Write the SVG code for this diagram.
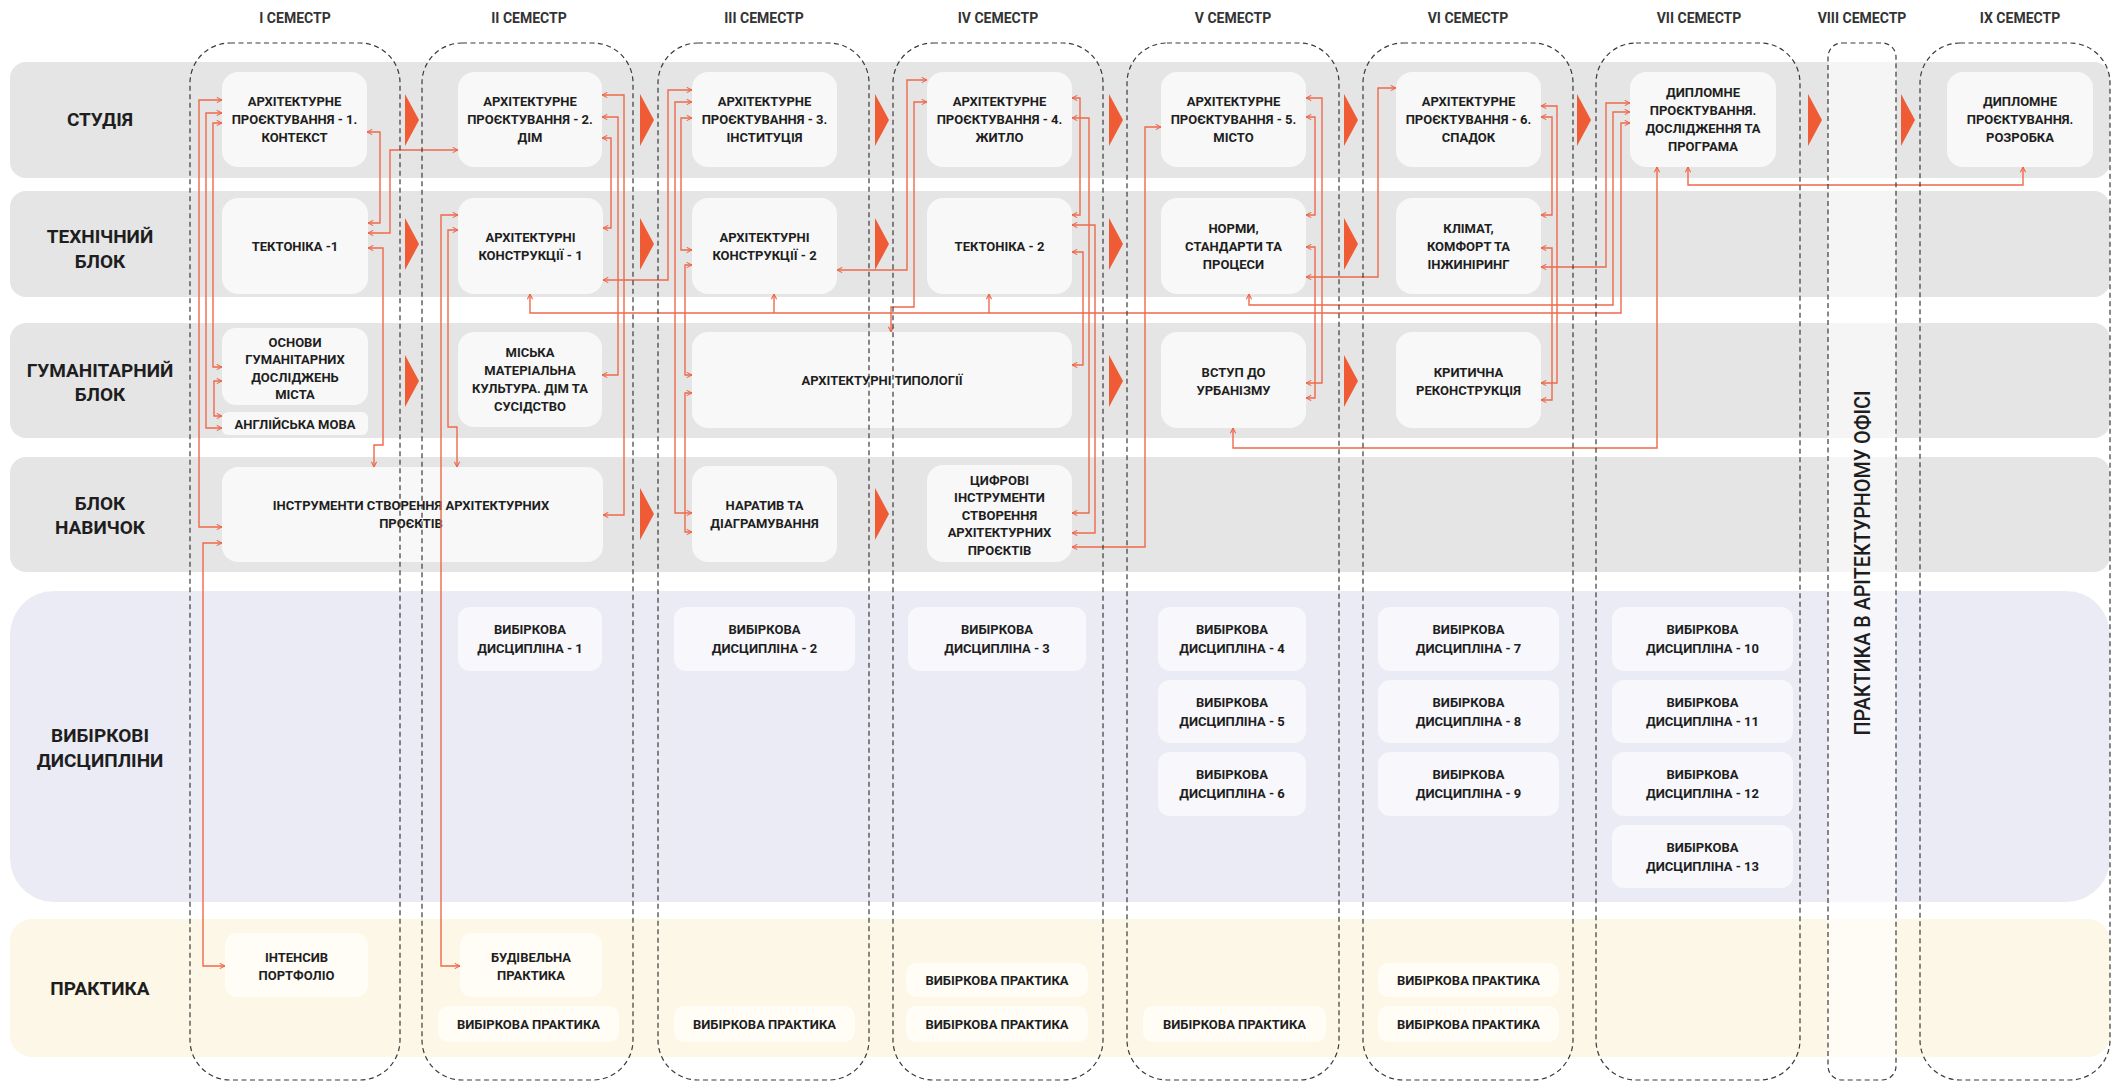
<svg xmlns="http://www.w3.org/2000/svg" width="2112" height="1082" viewBox="0 0 2112 1082">
<defs>
<marker id="ah" viewBox="0 0 8 8" refX="7.5" refY="4" markerWidth="7" markerHeight="7" markerUnits="userSpaceOnUse" orient="auto-start-reverse"><path d="M1.5,1 L7.5,4 L1.5,7" fill="none" stroke="#ec6446" stroke-width="1.2"/></marker>
</defs>
<style>
.band{fill:#e5e5e5}
.node{fill:#f8f8f8}
.enode{fill:#f7f7fc}
.pnode{fill:#fffdf6}
.t{font-family:Roboto,"Liberation Sans",sans-serif;font-weight:700;font-size:13px;fill:#1e1e1e;text-anchor:middle}
.lbl{font-size:19px}
.hdr{font-size:14px;fill:#333}
.col{fill:none;stroke:#3a3a3a;stroke-width:1.2;stroke-dasharray:5 3.5}
.tri{fill:#ef5b35}
.c{fill:none;stroke:#ee6a4b;stroke-width:1.4;marker-start:url(#ah);marker-end:url(#ah)}
.c1{fill:none;stroke:#ee6a4b;stroke-width:1.4;marker-end:url(#ah)}
</style>
<rect width="2112" height="1082" fill="#ffffff"/>
<g id="bands">
<rect class="band" x="10" y="62" width="2100" height="116" rx="16"/>
<rect class="band" x="10" y="191" width="2100" height="106" rx="16"/>
<rect class="band" x="10" y="323" width="2100" height="115" rx="16"/>
<rect class="band" x="10" y="457" width="2100" height="115" rx="16"/>
<rect x="10" y="591" width="2100" height="311" rx="44" fill="#ebebf5"/>
<rect x="10" y="919" width="2100" height="138" rx="22" fill="#fcf7e6"/>
<rect x="1828" y="43" width="68" height="1037" rx="14" fill="#ffffff" fill-opacity="0.6"/>
</g>
<g id="row-labels" class="t lbl">
<text x="100" y="126">СТУДІЯ</text>
<text x="100" y="243">ТЕХНІЧНИЙ</text><text x="100" y="268">БЛОК</text>
<text x="100" y="377">ГУМАНІТАРНИЙ</text><text x="100" y="401">БЛОК</text>
<text x="100" y="510">БЛОК</text><text x="100" y="534">НАВИЧОК</text>
<text x="100" y="742">ВИБІРКОВІ</text><text x="100" y="767">ДИСЦИПЛІНИ</text>
<text x="100" y="995">ПРАКТИКА</text>
</g>
<g id="headers" class="t hdr">
<text x="295" y="23">I СЕМЕСТР</text>
<text x="529" y="23">II СЕМЕСТР</text>
<text x="764" y="23">III СЕМЕСТР</text>
<text x="998" y="23">IV СЕМЕСТР</text>
<text x="1233" y="23">V СЕМЕСТР</text>
<text x="1468" y="23">VI СЕМЕСТР</text>
<text x="1699" y="23">VII СЕМЕСТР</text>
<text x="1862" y="23">VIII СЕМЕСТР</text>
<text x="2020" y="23">IX СЕМЕСТР</text>
</g>
<g id="s1"><rect class="node" x="222" y="72" width="145" height="95" rx="16"/><text class="t" x="294.5" y="106">АРХІТЕКТУРНЕ</text><text class="t" x="294.5" y="124">ПРОЄКТУВАННЯ - 1.</text><text class="t" x="294.5" y="142">КОНТЕКСТ</text></g>
<g id="s2"><rect class="node" x="458" y="72" width="144" height="95" rx="16"/><text class="t" x="530" y="106">АРХІТЕКТУРНЕ</text><text class="t" x="530" y="124">ПРОЄКТУВАННЯ - 2.</text><text class="t" x="530" y="142">ДІМ</text></g>
<g id="s3"><rect class="node" x="692" y="72" width="145" height="95" rx="16"/><text class="t" x="764.5" y="106">АРХІТЕКТУРНЕ</text><text class="t" x="764.5" y="124">ПРОЄКТУВАННЯ - 3.</text><text class="t" x="764.5" y="142">ІНСТИТУЦІЯ</text></g>
<g id="s4"><rect class="node" x="927" y="72" width="145" height="95" rx="16"/><text class="t" x="999.5" y="106">АРХІТЕКТУРНЕ</text><text class="t" x="999.5" y="124">ПРОЄКТУВАННЯ - 4.</text><text class="t" x="999.5" y="142">ЖИТЛО</text></g>
<g id="s5"><rect class="node" x="1161" y="72" width="145" height="95" rx="16"/><text class="t" x="1233.5" y="106">АРХІТЕКТУРНЕ</text><text class="t" x="1233.5" y="124">ПРОЄКТУВАННЯ - 5.</text><text class="t" x="1233.5" y="142">МІСТО</text></g>
<g id="s6"><rect class="node" x="1396" y="72" width="145" height="95" rx="16"/><text class="t" x="1468.5" y="106">АРХІТЕКТУРНЕ</text><text class="t" x="1468.5" y="124">ПРОЄКТУВАННЯ - 6.</text><text class="t" x="1468.5" y="142">СПАДОК</text></g>
<g id="s7"><rect class="node" x="1630" y="72" width="146" height="95" rx="16"/><text class="t" x="1703" y="97">ДИПЛОМНЕ</text><text class="t" x="1703" y="115">ПРОЄКТУВАННЯ.</text><text class="t" x="1703" y="133">ДОСЛІДЖЕННЯ ТА</text><text class="t" x="1703" y="151">ПРОГРАМА</text></g>
<g id="s9"><rect class="node" x="1947" y="72" width="146" height="95" rx="16"/><text class="t" x="2020" y="106">ДИПЛОМНЕ</text><text class="t" x="2020" y="124">ПРОЄКТУВАННЯ.</text><text class="t" x="2020" y="142">РОЗРОБКА</text></g>
<g id="t1"><rect class="node" x="222" y="198" width="146" height="96" rx="16"/><text class="t" x="295" y="251">ТЕКТОНІКА -1</text></g>
<g id="t2"><rect class="node" x="458" y="198" width="145" height="96" rx="16"/><text class="t" x="530.5" y="241.5">АРХІТЕКТУРНІ</text><text class="t" x="530.5" y="259.5">КОНСТРУКЦІЇ - 1</text></g>
<g id="t3"><rect class="node" x="692" y="198" width="145" height="96" rx="16"/><text class="t" x="764.5" y="241.5">АРХІТЕКТУРНІ</text><text class="t" x="764.5" y="259.5">КОНСТРУКЦІЇ - 2</text></g>
<g id="t4"><rect class="node" x="927" y="198" width="145" height="96" rx="16"/><text class="t" x="999.5" y="251">ТЕКТОНІКА - 2</text></g>
<g id="t5"><rect class="node" x="1161" y="198" width="145" height="96" rx="16"/><text class="t" x="1233.5" y="232.5">НОРМИ,</text><text class="t" x="1233.5" y="250.5">СТАНДАРТИ ТА</text><text class="t" x="1233.5" y="268.5">ПРОЦЕСИ</text></g>
<g id="t6"><rect class="node" x="1396" y="198" width="145" height="96" rx="16"/><text class="t" x="1468.5" y="232.5">КЛІМАТ,</text><text class="t" x="1468.5" y="250.5">КОМФОРТ ТА</text><text class="t" x="1468.5" y="268.5">ІНЖИНІРИНГ</text></g>
<g id="h1"><rect class="node" x="222" y="328" width="146" height="77" rx="14"/><text class="t" x="295" y="346.5">ОСНОВИ</text><text class="t" x="295" y="364">ГУМАНІТАРНИХ</text><text class="t" x="295" y="381.5">ДОСЛІДЖЕНЬ</text><text class="t" x="295" y="399">МІСТА</text></g>
<g id="h1b"><rect class="node" x="222" y="412" width="146" height="23" rx="6"/><text class="t" x="295" y="428.5">АНГЛІЙСЬКА МОВА</text></g>
<g id="h2"><rect class="node" x="458" y="332" width="144" height="95" rx="16"/><text class="t" x="530" y="356.5">МІСЬКА</text><text class="t" x="530" y="374.5">МАТЕРІАЛЬНА</text><text class="t" x="530" y="392.5">КУЛЬТУРА. ДІМ ТА</text><text class="t" x="530" y="410.5">СУСІДСТВО</text></g>
<g id="h34"><rect class="node" x="692" y="332" width="380" height="96" rx="16"/><text class="t" x="882" y="384.5">АРХІТЕКТУРНІ ТИПОЛОГІЇ</text></g>
<g id="h5"><rect class="node" x="1161" y="332" width="145" height="96" rx="16"/><text class="t" x="1233.5" y="376.5">ВСТУП ДО</text><text class="t" x="1233.5" y="394.5">УРБАНІЗМУ</text></g>
<g id="h6"><rect class="node" x="1396" y="332" width="145" height="96" rx="16"/><text class="t" x="1468.5" y="376.5">КРИТИЧНА</text><text class="t" x="1468.5" y="394.5">РЕКОНСТРУКЦІЯ</text></g>
<g id="k12"><rect class="node" x="222" y="467" width="381" height="95" rx="16"/><text class="t" x="411" y="509.5">ІНСТРУМЕНТИ СТВОРЕННЯ АРХІТЕКТУРНИХ</text><text class="t" x="411" y="527.5">ПРОЄКТІВ</text></g>
<g id="k3"><rect class="node" x="692" y="466" width="145" height="96" rx="16"/><text class="t" x="764.5" y="509.5">НАРАТИВ ТА</text><text class="t" x="764.5" y="527.5">ДІАГРАМУВАННЯ</text></g>
<g id="k4"><rect class="node" x="927" y="465" width="145" height="97" rx="16"/><text class="t" x="999.5" y="484.6">ЦИФРОВІ</text><text class="t" x="999.5" y="502.1">ІНСТРУМЕНТИ</text><text class="t" x="999.5" y="519.6">СТВОРЕННЯ</text><text class="t" x="999.5" y="537.1">АРХІТЕКТУРНИХ</text><text class="t" x="999.5" y="554.6">ПРОЄКТІВ</text></g>
<g id="e1"><rect class="enode" x="458" y="607" width="144" height="64" rx="12"/><text class="t" x="530" y="634">ВИБІРКОВА</text><text class="t" x="530" y="653">ДИСЦИПЛІНА - 1</text></g>
<g id="e2"><rect class="enode" x="674" y="607" width="181" height="64" rx="12"/><text class="t" x="764.5" y="634">ВИБІРКОВА</text><text class="t" x="764.5" y="653">ДИСЦИПЛІНА - 2</text></g>
<g id="e3"><rect class="enode" x="908" y="607" width="178" height="64" rx="12"/><text class="t" x="997" y="634">ВИБІРКОВА</text><text class="t" x="997" y="653">ДИСЦИПЛІНА - 3</text></g>
<g id="e4"><rect class="enode" x="1158" y="607" width="148" height="64" rx="12"/><text class="t" x="1232" y="634">ВИБІРКОВА</text><text class="t" x="1232" y="653">ДИСЦИПЛІНА - 4</text></g>
<g id="e5"><rect class="enode" x="1158" y="680" width="148" height="63" rx="12"/><text class="t" x="1232" y="706.6">ВИБІРКОВА</text><text class="t" x="1232" y="725.6">ДИСЦИПЛІНА - 5</text></g>
<g id="e6"><rect class="enode" x="1158" y="752" width="148" height="64" rx="12"/><text class="t" x="1232" y="779">ВИБІРКОВА</text><text class="t" x="1232" y="798">ДИСЦИПЛІНА - 6</text></g>
<g id="e7"><rect class="enode" x="1378" y="607" width="181" height="64" rx="12"/><text class="t" x="1468.5" y="634">ВИБІРКОВА</text><text class="t" x="1468.5" y="653">ДИСЦИПЛІНА - 7</text></g>
<g id="e8"><rect class="enode" x="1378" y="680" width="181" height="63" rx="12"/><text class="t" x="1468.5" y="706.6">ВИБІРКОВА</text><text class="t" x="1468.5" y="725.6">ДИСЦИПЛІНА - 8</text></g>
<g id="e9"><rect class="enode" x="1378" y="752" width="181" height="64" rx="12"/><text class="t" x="1468.5" y="779">ВИБІРКОВА</text><text class="t" x="1468.5" y="798">ДИСЦИПЛІНА - 9</text></g>
<g id="e10"><rect class="enode" x="1612" y="607" width="181" height="64" rx="12"/><text class="t" x="1702.5" y="634">ВИБІРКОВА</text><text class="t" x="1702.5" y="653">ДИСЦИПЛІНА - 10</text></g>
<g id="e11"><rect class="enode" x="1612" y="680" width="181" height="63" rx="12"/><text class="t" x="1702.5" y="706.6">ВИБІРКОВА</text><text class="t" x="1702.5" y="725.6">ДИСЦИПЛІНА - 11</text></g>
<g id="e12"><rect class="enode" x="1612" y="752" width="181" height="64" rx="12"/><text class="t" x="1702.5" y="779">ВИБІРКОВА</text><text class="t" x="1702.5" y="798">ДИСЦИПЛІНА - 12</text></g>
<g id="e13"><rect class="enode" x="1612" y="825" width="181" height="63" rx="12"/><text class="t" x="1702.5" y="851.6">ВИБІРКОВА</text><text class="t" x="1702.5" y="870.6">ДИСЦИПЛІНА - 13</text></g>
<g id="p1"><rect class="pnode" x="225" y="933" width="143" height="64" rx="12"/><text class="t" x="296.5" y="961.6">ІНТЕНСИВ</text><text class="t" x="296.5" y="979.6">ПОРТФОЛІО</text></g>
<g id="p2"><rect class="pnode" x="460" y="933" width="142" height="64" rx="12"/><text class="t" x="531" y="961.6">БУДІВЕЛЬНА</text><text class="t" x="531" y="979.6">ПРАКТИКА</text></g>
<g id="p2b"><rect class="pnode" x="438" y="1006" width="181" height="36" rx="10"/><text class="t" x="528.5" y="1028.6">ВИБІРКОВА ПРАКТИКА</text></g>
<g id="p3"><rect class="pnode" x="674" y="1006" width="181" height="36" rx="10"/><text class="t" x="764.5" y="1028.6">ВИБІРКОВА ПРАКТИКА</text></g>
<g id="p4a"><rect class="pnode" x="906" y="963" width="182" height="34" rx="10"/><text class="t" x="997" y="984.6">ВИБІРКОВА ПРАКТИКА</text></g>
<g id="p4b"><rect class="pnode" x="906" y="1006" width="182" height="36" rx="10"/><text class="t" x="997" y="1028.6">ВИБІРКОВА ПРАКТИКА</text></g>
<g id="p5"><rect class="pnode" x="1143" y="1006" width="183" height="36" rx="10"/><text class="t" x="1234.5" y="1028.6">ВИБІРКОВА ПРАКТИКА</text></g>
<g id="p6a"><rect class="pnode" x="1378" y="963" width="181" height="34" rx="10"/><text class="t" x="1468.5" y="984.6">ВИБІРКОВА ПРАКТИКА</text></g>
<g id="p6b"><rect class="pnode" x="1378" y="1006" width="181" height="36" rx="10"/><text class="t" x="1468.5" y="1028.6">ВИБІРКОВА ПРАКТИКА</text></g>
<g id="p8"><text class="t" transform="translate(1870,563) rotate(-90)" style="font-size:22px;font-weight:500" textLength="345" lengthAdjust="spacingAndGlyphs">ПРАКТИКА В АРІТЕКТУРНОМУ ОФІСІ</text></g>
<g id="connectors">
<path class="c" d="M222,100 H199 V527 H222"/>
<path class="c" d="M222,113 H206 V428 H222"/>
<path class="c" d="M222,123 H213 V367 H222"/>
<path class="c" d="M222,381 H214 V416 H222"/>
<path class="c" d="M222,543 H203 V966 H225"/>
<path class="c" d="M367,132 H380 V223 H368"/>
<path class="c" d="M368,233 H390 V150 H458"/>
<path class="c" d="M368,248 H383 V445 H374 V467"/>
<path class="c" d="M458,215 H441 V966 H460"/>
<path class="c" d="M458,230 H448 V427 H457 V467"/>
<path class="c" d="M602,95 H624 V515 H603"/>
<path class="c" d="M602,117 H618 V375 H602"/>
<path class="c" d="M602,138 H611 V228 H603"/>
<path class="c" d="M603,280 H668 V90 H692"/>
<path class="c" d="M530,294 V313 H1621 V123 H1630"/>
<path class="c1" d="M774,313 V294"/>
<path class="c1" d="M989,313 V294"/>
<path class="c" d="M692,102 H675 V513 H692"/>
<path class="c" d="M692,118 H681 V250 H692"/>
<path class="c" d="M692,265 H685 V375 H692"/>
<path class="c" d="M692,393 H685 V532 H692"/>
<path class="c" d="M837,270 H907 V80 H927"/>
<path class="c" d="M927,102 H914 V307 H891 V332"/>
<path class="c" d="M1072,98 H1080 V215 H1072"/>
<path class="c" d="M1072,118 H1089 V513 H1072"/>
<path class="c" d="M1072,225 H1095 V533 H1072"/>
<path class="c" d="M1072,252 H1083 V365 H1072"/>
<path class="c" d="M1161,127 H1145 V547 H1072"/>
<path class="c" d="M1306,98 H1322 V383 H1306"/>
<path class="c" d="M1306,117 H1315 V215 H1306"/>
<path class="c" d="M1306,247 H1315 V398 H1306"/>
<path class="c" d="M1306,277 H1378 V88 H1396"/>
<path class="c" d="M1249,294 V305 H1613 V112 H1630"/>
<path class="c" d="M1541,106 H1557 V383 H1541"/>
<path class="c" d="M1541,117 H1552 V215 H1541"/>
<path class="c" d="M1541,248 H1552 V400 H1541"/>
<path class="c" d="M1541,267 H1606 V103 H1630"/>
<path class="c" d="M1233,428 V448 H1657 V167"/>
<path class="c" d="M1688,167 V185 H2023 V167"/>
</g>
<g id="flow-arrows" class="tri">
<polygon points="405,94 419,120 405,146"/>
<polygon points="640,94 654,120 640,146"/>
<polygon points="875,94 889,120 875,146"/>
<polygon points="1109,94 1123,120 1109,146"/>
<polygon points="1344,94 1358,120 1344,146"/>
<polygon points="1577,94 1591,120 1577,146"/>
<polygon points="1808,94 1822,120 1808,146"/>
<polygon points="1901,94 1915,120 1901,146"/>
<polygon points="405,218 419,244 405,270"/>
<polygon points="640,218 654,244 640,270"/>
<polygon points="875,218 889,244 875,270"/>
<polygon points="1109,218 1123,244 1109,270"/>
<polygon points="1344,218 1358,244 1344,270"/>
<polygon points="405,355 419,381 405,407"/>
<polygon points="1109,355 1123,381 1109,407"/>
<polygon points="1344,355 1358,381 1344,407"/>
<polygon points="640,488 654,514 640,540"/>
<polygon points="875,488 889,514 875,540"/>
</g>
<g id="semesters" class="col">
<rect x="190" y="43" width="210" height="1037" rx="40"/>
<rect x="422" y="43" width="211" height="1037" rx="40"/>
<rect x="658" y="43" width="211" height="1037" rx="40"/>
<rect x="893" y="43" width="210" height="1037" rx="40"/>
<rect x="1127" y="43" width="212" height="1037" rx="40"/>
<rect x="1363" y="43" width="210" height="1037" rx="40"/>
<rect x="1596" y="43" width="204" height="1037" rx="40"/>
<rect x="1828" y="43" width="68" height="1037" rx="14"/>
<rect x="1920" y="43" width="190" height="1037" rx="40"/>
</g>
</svg>
